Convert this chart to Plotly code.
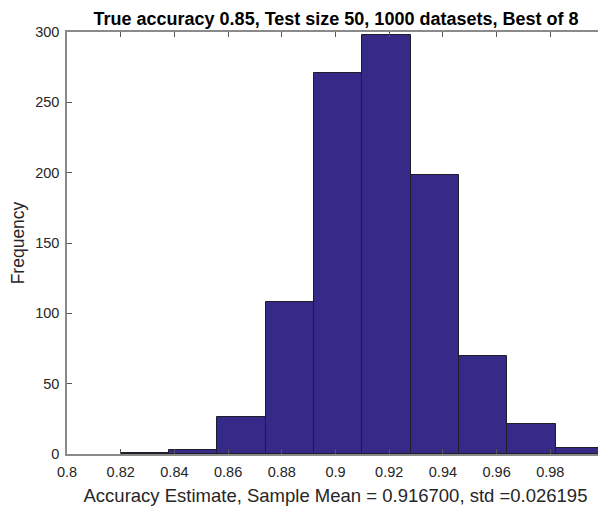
import plotly.graph_objects as go

# Data
bin_edges = [0.82, 0.838, 0.856, 0.874, 0.892, 0.91, 0.928, 0.946, 0.964, 0.982, 1.0]
counts = [1, 3, 26, 108, 271, 298, 198, 70, 21, 4]
x_tick_vals = [0.8, 0.82, 0.84, 0.86, 0.88, 0.9, 0.92, 0.94, 0.96, 0.98, 1.0]
x_tick_text = ["0.8", "0.82", "0.84", "0.86", "0.88", "0.9", "0.92", "0.94", "0.96", "0.98", "1"]
y_tick_vals = [0, 50, 100, 150, 200, 250, 300]

title_text = "True accuracy 0.85, Test size 50, 1000 datasets, Best of 8"
x_title = "Accuracy Estimate, Sample Mean = 0.916700, std =0.026195"
y_title = "Frequency"

centers = [(a + b) / 2 for a, b in zip(bin_edges[:-1], bin_edges[1:])]
widths = [b - a for a, b in zip(bin_edges[:-1], bin_edges[1:])]

fig = go.Figure(go.Bar(
    x=centers, y=counts, width=widths,
    marker=dict(color="#352a87", line=dict(color="#1e1e2a", width=1)),
    hoverinfo="x+y",
))

font_family = "Liberation Sans, Arial, sans-serif"
axis_common = dict(
    showline=True, linecolor="#8a8a8a", linewidth=1.5, mirror="ticks",
    ticks="inside", ticklen=5, tickcolor="#555555", tickwidth=1,
    showgrid=False, zeroline=False, automargin=False,
    ticklabeloverflow="allow",
    tickfont=dict(family=font_family, size=14.5, color="#262626"),
)

fig.update_layout(
    width=598, height=498,
    margin=dict(l=59, r=2, t=24, b=52),
    paper_bgcolor="white", plot_bgcolor="white",
    showlegend=False,
    bargap=0,
    title=dict(text="<b>" + title_text + "</b>", x=0.5485, xanchor="center",
               yref="container", y=0.992, yanchor="top",
               font=dict(family=font_family, size=18, color="#000000")),
    xaxis=dict(range=[0.8, 1.0], tickvals=x_tick_vals, ticktext=x_tick_text,
               ticklabelstandoff=4,
               title=dict(text=x_title, standoff=12,
                          font=dict(family=font_family, size=18.5, color="#262626")),
               **axis_common),
    yaxis=dict(range=[0, 300], tickvals=y_tick_vals,
               ticklabelstandoff=3,
               title=dict(text=y_title, standoff=12,
                          font=dict(family=font_family, size=17.5, color="#262626")),
               **axis_common),
)

fig.write_html("out.html")
